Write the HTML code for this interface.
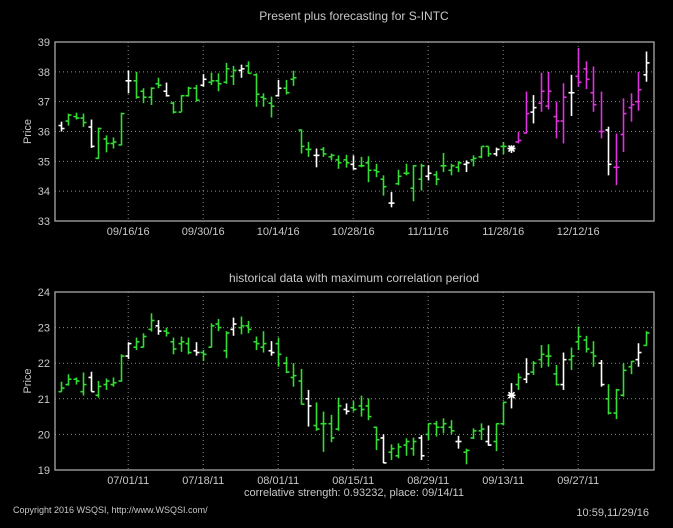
<!DOCTYPE html>
<html><head><meta charset="utf-8"><style>
html,body{margin:0;padding:0;background:#000;}
svg{display:block;font-family:"Liberation Sans",sans-serif;}
</style></head><body>
<svg id="c" width="673" height="528" viewBox="0 0 673 528"></svg>
<script>
const topTickIdx=[9,19,29,39,49,59,69];
const topTickLbl=["09/16/16","09/30/16","10/14/16","10/28/16","11/11/16","11/28/16","12/12/16"];
const topYTicks=[33,34,35,36,37,38,39];
const topH=[36.33,36.6,36.63,36.6,36.4,36.13,35.87,35.8,36.63,38.04,38.0,37.45,37.48,37.8,37.64,37.0,37.22,37.5,37.56,37.92,37.97,37.95,38.3,38.2,38.24,38.35,37.95,37.28,37.17,37.73,37.73,38.04,36.07,35.65,35.43,35.48,35.26,35.2,35.22,35.2,35.15,35.17,34.92,34.53,33.97,34.72,34.92,34.87,34.92,34.87,34.67,35.28,34.92,35.0,35.03,35.2,35.5,35.5,35.46,35.65,35.54,35.99,37.34,37.22,37.97,38.0,37.0,37.62,37.9,38.8,38.35,38.18,37.34,36.16,35.93,37.11,37.28,38.0,38.68];
const topL=[36.0,36.2,36.4,36.15,35.45,35.08,35.3,35.43,35.54,37.28,37.1,36.95,36.89,37.45,37.17,36.6,36.66,37.17,37.0,37.5,37.56,37.35,37.6,37.56,37.8,37.93,36.83,36.83,36.47,37.17,37.24,37.53,35.26,35.15,34.8,35.15,35.03,34.75,34.79,34.72,34.8,34.3,34.47,33.85,33.46,34.2,34.53,33.66,34.02,34.36,34.2,34.64,34.53,34.64,34.64,34.83,35.1,35.15,35.17,35.24,35.28,35.6,35.93,36.27,36.66,36.74,35.77,35.6,36.52,37.5,37.42,36.66,35.77,34.53,34.2,35.31,36.33,36.7,37.67];
const topO=[36.2,36.35,36.5,36.45,36.15,35.1,35.75,35.6,35.55,37.7,37.7,37.35,37.15,37.6,37.35,36.95,36.65,37.2,37.45,37.55,37.65,37.7,37.65,37.85,38.05,38.2,37.9,37.15,36.95,37.2,37.45,37.75,36.05,35.4,35.2,35.4,35.15,35.05,35.05,34.9,34.85,34.95,34.7,34.4,33.6,34.25,34.6,34.1,34.4,34.5,34.55,34.85,34.7,34.8,34.9,35.05,35.15,35.5,35.25,35.5,35.43,35.65,35.95,36.65,36.95,36.85,36.5,36.35,37.3,37.85,38.1,37.3,36.0,36.05,34.8,35.9,36.8,37.0,37.9];
const topC=[36.1,36.55,36.45,36.3,35.5,36.1,35.6,35.65,36.6,37.7,37.15,37.15,37.45,37.55,37.2,36.65,37.2,37.45,37.05,37.75,37.7,37.6,38.1,38.05,38.1,37.95,37.25,37.1,36.85,37.45,37.3,37.8,35.5,35.4,35.2,35.25,35.2,34.95,34.95,34.75,34.85,34.7,34.65,34.15,33.6,34.5,34.6,34.85,34.85,34.6,34.4,34.85,34.85,34.95,34.95,35.1,35.5,35.25,35.4,35.5,35.43,35.7,36.6,36.8,37.35,37.35,36.35,37.15,37.3,37.65,37.75,36.9,36.0,34.9,34.8,36.6,36.9,37.4,38.3];
const topKind="wggg"+"wgggg"+"wgggg"+"wgggg"+"wgggg"+"wgggg"+"wgggg"+"wgggg"+"wgggg"+"wgggg"+"wgggg"+"wggg"+"wg"+"s"+"mm"+"w"+"mmmm"+"w"+"mmmm"+"w"+"mmmm"+"w";

const botTickIdx=[9,19,29,39,49,59,69];
const botTickLbl=["07/01/11","07/18/11","08/01/11","08/15/11","08/29/11","09/13/11","09/27/11"];
const botYTicks=[19,20,21,22,23,24];
const botH=[21.48,21.69,21.6,21.74,21.76,21.5,21.57,21.6,22.25,22.59,22.72,22.84,23.4,23.21,23.0,22.72,22.75,22.72,22.59,22.37,23.12,23.24,22.9,23.28,23.31,23.19,22.75,22.9,22.62,22.72,22.18,22.0,21.84,21.25,20.9,20.64,20.55,21.03,20.87,20.94,21.09,21.01,20.22,20.0,19.72,19.75,19.89,19.91,19.98,20.31,20.38,20.45,20.4,19.96,19.6,20.17,20.31,20.25,20.31,20.92,21.44,21.72,22.14,22.06,22.51,22.53,21.95,22.3,22.44,23.03,22.77,22.62,22.09,21.41,21.28,22.0,22.06,22.56,22.9];
const botL=[21.2,21.37,21.4,21.09,21.2,21.03,21.25,21.34,21.48,22.12,22.37,22.44,22.89,22.8,22.75,22.25,22.32,22.25,22.21,22.06,22.44,22.9,22.14,22.77,22.81,22.84,22.37,22.3,22.21,21.9,21.72,21.34,20.84,20.22,20.1,19.51,19.78,20.1,20.56,20.64,20.5,20.4,19.56,19.19,19.28,19.33,19.4,19.4,19.28,19.84,19.94,20.03,20.0,19.6,19.16,19.87,19.84,19.68,19.53,20.25,20.73,21.25,21.44,21.67,21.87,21.9,21.37,21.25,21.81,22.37,22.3,21.9,21.34,20.56,20.43,21.06,21.69,21.9,22.49];
const botO=[21.2,21.4,21.55,21.2,21.6,21.1,21.4,21.4,21.5,22.2,22.45,22.45,22.95,23.05,22.9,22.6,22.55,22.55,22.35,22.3,22.45,23.1,22.35,22.95,23.0,23.05,22.6,22.45,22.35,22.55,22.0,21.6,21.5,21.0,20.25,20.3,20.3,20.15,20.7,20.75,20.8,20.8,20.2,19.9,19.5,19.4,19.7,19.6,19.9,20.0,20.3,20.2,20.2,19.8,19.5,19.9,20.1,19.8,19.8,20.3,21.1,21.4,21.55,21.75,22.1,22.2,21.7,21.4,22.1,22.6,22.65,22.3,22.0,21.0,20.6,21.1,21.9,22.1,22.5];
const botC=[21.3,21.55,21.5,21.4,21.2,21.35,21.5,21.45,22.2,22.55,22.6,22.75,23.2,22.9,22.85,22.4,22.6,22.3,22.3,22.25,23.05,23.0,22.85,23.1,23.05,22.95,22.55,22.55,22.3,22.25,21.75,21.65,20.85,20.8,20.15,20.3,19.9,20.8,20.65,20.7,20.7,20.5,19.85,19.2,19.6,19.65,19.8,19.8,19.4,20.3,20.2,20.3,20.1,19.8,19.55,20.1,20.15,19.7,20.3,20.9,21.1,21.6,21.7,22.0,22.25,22.2,21.4,22.1,22.2,22.75,22.4,22.2,21.4,20.6,21.25,21.8,22.05,22.3,22.85];
const botKind="gggg"+"wgggg"+"wggg"+"wgggg"+"wgggg"+"wgggg"+"wgggg"+"wgggg"+"wgggg"+"wgggg"+"wgggg"+"wggg"+"wgg"+"s"+"g"+"w"+"gggg"+"w"+"gggg"+"w"+"gggg"+"w"+"g";

const NS="http://www.w3.org/2000/svg";
const svg=document.getElementById('c');
const X0=55,X1=654;
function xs(i){return 60.7+7.5*i;}
function mk(tag,attrs,parent){const e=document.createElementNS(NS,tag);for(const k in attrs)e.setAttribute(k,attrs[k]);(parent||svg).appendChild(e);return e;}
const colors={g:"#33dd33",w:"#ffffff",m:"#dd33dd",s:"#ffffff"};

function panel(name,y0,y1,vmin,vmax,yt,ti,tl,H,L,O,C,K,title,titleY){
  const ys=v=>y1-(v-vmin)/(vmax-vmin)*(y1-y0);
  const g=mk('g',{});
  
  
  const t=mk('text',{x:354,y:titleY,fill:"#c8c8c8","font-size":"12","text-anchor":"middle"},g);
  t.textContent=title;
  
  
  yt.forEach(v=>{
    const y=ys(v);
    if(v>vmin&&v<vmax){const l=mk('line',{x1:X0,x2:X1,y1:y,y2:y,stroke:"#8a8a8a","stroke-dasharray":"1,3"},g);
      }
    const tx=mk('text',{x:50,y:y+4,fill:"#c8c8c8","font-size":"11","text-anchor":"end"},g);
    tx.textContent=v;
    
    
  });
  ti.forEach((idx,k)=>{
    const x=xs(idx);
    const l=mk('line',{x1:x,x2:x,y1:y0,y2:y1,stroke:"#8a8a8a","stroke-dasharray":"1,3"},g);
    
    const tx=mk('text',{x:x,y:y1+14,fill:"#c8c8c8","font-size":"11","text-anchor":"middle"},g);
    tx.textContent=tl[k];
    
    
  });
  const fr=mk('rect',{x:X0,y:y0,width:X1-X0,height:y1-y0,fill:"none",stroke:"#a8a8a8","stroke-width":"1.3"},g);
  
  const yl=mk('text',{x:0,y:0,fill:"#c8c8c8","font-size":"11","text-anchor":"middle",transform:`translate(31,${(y0+y1)/2}) rotate(-90)`},g);
  yl.textContent="Price";
  
  
  H.forEach((h,i)=>{
    const x=Math.round(xs(i))+0.5,col=colors[K[i]];
    const bg=mk('g',{stroke:col,"stroke-width":"1.6"},g);
    
    
    mk('line',{x1:x,x2:x,y1:ys(h),y2:ys(L[i])},bg);
    mk('line',{x1:x-3,x2:x,y1:ys(O[i]),y2:ys(O[i])},bg);
    mk('line',{x1:x,x2:x+3,y1:ys(C[i]),y2:ys(C[i])},bg);
    if(K[i]==='s'){const yc=ys(C[i]);
      mk('line',{x1:x-4,x2:x+4,y1:yc,y2:yc},bg);
      mk('line',{x1:x-3,x2:x+3,y1:yc-3,y2:yc+3},bg);
      mk('line',{x1:x-3,x2:x+3,y1:yc+3,y2:yc-3},bg);}
  });
}
panel('top-panel',42,221,33,39,topYTicks,topTickIdx,topTickLbl,topH,topL,topO,topC,topKind,"Present plus forecasting for S-INTC",20);
panel('bottom-panel',292,470,19,24,botYTicks,botTickIdx,botTickLbl,botH,botL,botO,botC,botKind,"historical data with maximum correlation period",282);
</script>
<div style="position:absolute;left:0;top:0;width:673px;height:528px;pointer-events:none;font-family:'Liberation Sans',sans-serif;color:#c8c8c8">
<div style="position:absolute;left:0;width:708px;top:487px;text-align:center;font-size:11px">correlative strength: 0.93232, place: 09/14/11</div>
<div style="position:absolute;left:13px;top:505px;font-size:9px">Copyright 2016 WSQSI, http://www.WSQSI.com/</div>
<div style="position:absolute;right:24px;top:507px;font-size:11px">10:59,11/29/16</div>
</div>
</body></html>
